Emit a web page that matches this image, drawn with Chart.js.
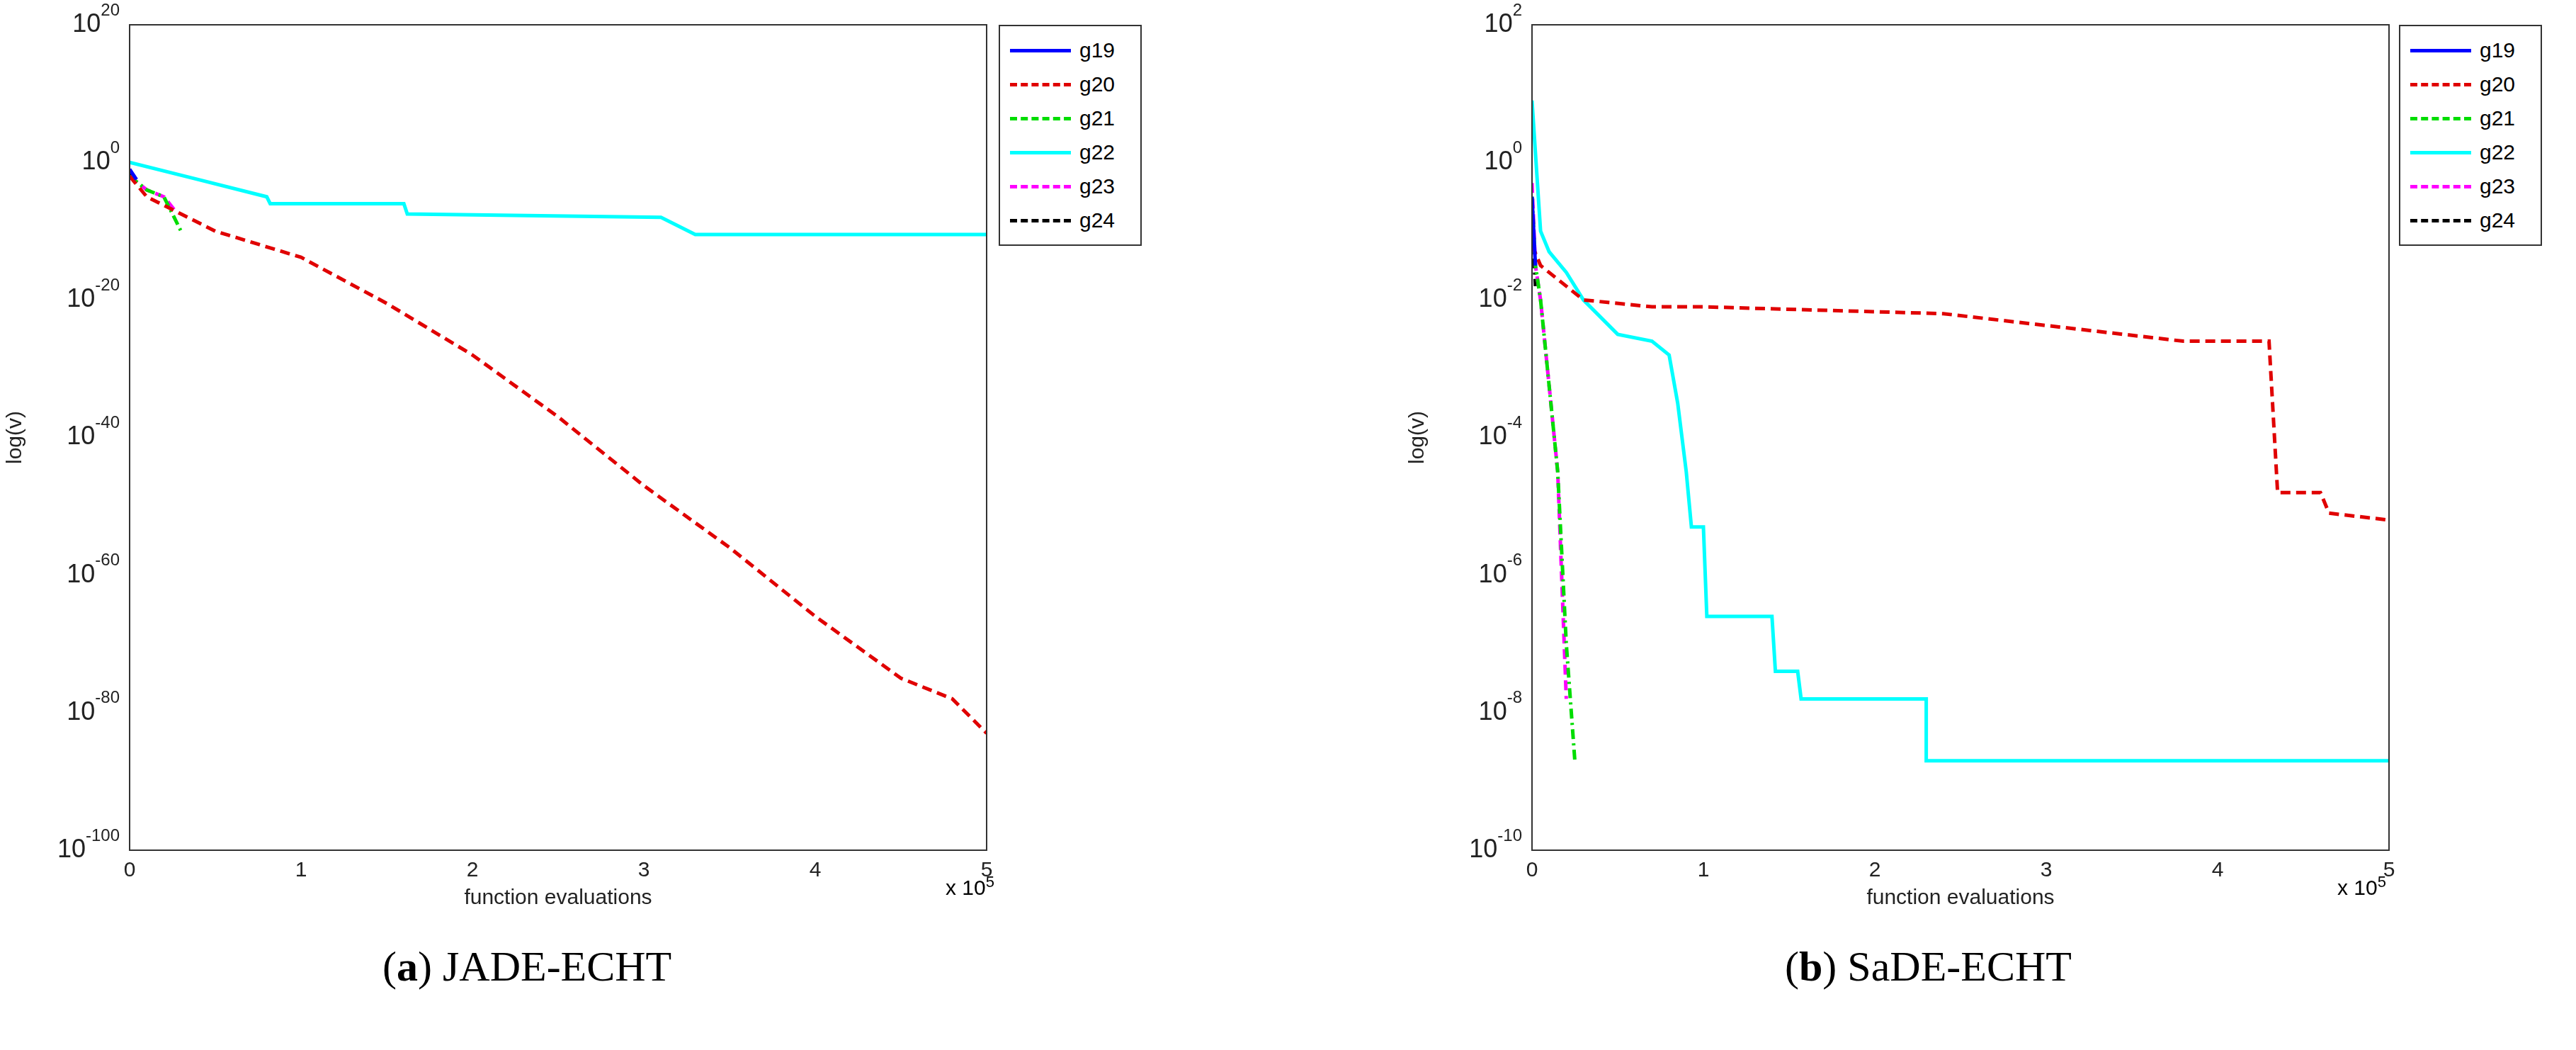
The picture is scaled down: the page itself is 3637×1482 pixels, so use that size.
<!DOCTYPE html>
<html><head><meta charset="utf-8">
<script src="https://cdn.jsdelivr.net/npm/chart.js@4/dist/chart.umd.min.js"></script>
<style>
body{margin:0;background:#fff;width:3637px;height:1482px;position:relative;font-family:"Liberation Sans",Arial,sans-serif;overflow:hidden}
.wrap{position:absolute;top:0;width:1420px;height:1290px}
.legend{position:absolute;border:2px solid #333;background:#fff;padding:10px 14px;font-size:30px}
.legend div{display:flex;align-items:center;height:48px}
.legend span.l{display:inline-block;width:86px;margin-right:12px;border-top:5px solid}
.cap{position:absolute;top:1330px;font-family:"Liberation Serif","Times New Roman",serif;font-size:60px}
.mult{position:absolute;top:1232px;font-size:30px}
</style></head><body>
<div class="wrap" id="w1" style="left:0"><canvas id="c1"></canvas></div>
<div class="wrap" id="w2" style="left:1980px"><canvas id="c2"></canvas></div>
<div class="legend" id="lg1" style="left:1410px;top:35px;width:170px"></div>
<div class="legend" id="lg2" style="left:3387px;top:35px;width:170px"></div>
<div class="mult" style="left:1335px">x 10<sup style="font-size:22px">5</sup></div>
<div class="mult" style="left:3300px">x 10<sup style="font-size:22px">5</sup></div>
<div class="cap" style="left:540px">(<b>a</b>) JADE-ECHT</div>
<div class="cap" style="left:2520px">(<b>b</b>) SaDE-ECHT</div>
<script>
// series names and styles
const names = ["g19","g20","g21","g22","g23","g24"]
const colors = ["#0000ff","#e00000","#00dd00","#00ffff","#ff00ff","#000000"]
const dashes = [[],[14,8],[14,6,3,6],[],[14,8],[14,6,3,6]]
const legendBorder = ["solid","dashed","dashed","solid","dashed","dashed"]

// x in units of 1e5 evaluations, y as log10 exponent
// (a) JADE-ECHT
const jX19 = [0,0.04], jY19 = [-1,-2.5]
const jX20 = [0,0.1,0.3,0.5,1,1.5,2,2.5,3,3.5,4,4.5,4.8,5]
const jY20 = [-2,-5,-7.5,-10,-13.8,-20.5,-28,-37,-47,-56,-66,-75,-78,-83]
const jX21 = [0,0.1,0.2,0.3], jY21 = [-2,-4,-5,-10]
const jX22 = [0,0.4,0.8,0.82,1.6,1.62,3.1,3.3,5]
const jY22 = [0,-2.5,-5,-6,-6,-7.5,-8,-10.5,-10.5]
const jX23 = [0,0.1,0.2,0.28], jY23 = [-2,-4,-5,-7.5]
const jX24 = [0,0.04], jY24 = [-1.5,-3]
// (b) SaDE-ECHT
const sX19 = [0,0.02], sY19 = [-0.5,-1.5]
const sX20 = [0,0.05,0.2,0.3,0.7,1.0,2.4,3.1,3.8,4.3,4.35,4.6,4.65,5]
const sY20 = [-1.2,-1.5,-1.8,-2.0,-2.1,-2.1,-2.2,-2.4,-2.6,-2.6,-4.8,-4.8,-5.1,-5.2]
const sX21 = [0,0.02,0.05,0.15,0.2,0.25], sY21 = [-0.5,-1.5,-2,-4.5,-7,-8.7]
const sX22 = [0,0.05,0.1,0.2,0.3,0.5,0.7,0.8,0.85,0.9,0.93,1.0,1.02,1.4,1.42,1.55,1.57,2.3,2.3,5]
const sY22 = [0.9,-1,-1.3,-1.6,-2.0,-2.5,-2.6,-2.8,-3.5,-4.5,-5.3,-5.3,-6.6,-6.6,-7.4,-7.4,-7.8,-7.8,-8.7,-8.7]
const sX23 = [0,0.02,0.05,0.15,0.2], sY23 = [-0.3,-1.5,-2,-4.5,-7.8]
const sX24 = [0,0.02], sY24 = [-0.8,-1.8]

const jade = [[jX19,jY19],[jX20,jY20],[jX21,jY21],[jX22,jY22],[jX23,jY23],[jX24,jY24]]
const sade = [[sX19,sY19],[sX20,sY20],[sX21,sY21],[sX22,sY22],[sX23,sY23],[sX24,sY24]]

// box round the plot and 10^n tick labels drawn with a real superscript
const boxPlugin = {
    id: "box",
    afterDraw(chart){
        const a = chart.chartArea, c = chart.ctx, y = chart.scales.y
        c.save(); c.strokeStyle = "#333"; c.lineWidth = 2
        c.strokeRect(a.left, a.top, a.right - a.left, a.bottom - a.top)
        c.fillStyle = "#222"; c.textBaseline = "middle"
        for(const t of y.ticks){
            const py = y.getPixelForValue(t.value)
            const e = String(Math.round(Math.log10(t.value)))
            c.font = "24px 'Liberation Sans', Arial"
            const ew = c.measureText(e).width
            c.textAlign = "left"
            c.fillText(e, a.left - 14 - ew, py - 20)
            c.font = "36px 'Liberation Sans', Arial"
            c.textAlign = "right"
            c.fillText("10", a.left - 14 - ew, py)
        }
        c.restore()
    }
}

function makeChart(id, series, yMin, yMax, yStep){
    const yTicks = []
    for(let e = yMin; e <= yMax; e += yStep) yTicks.push(e)
    new Chart(document.getElementById(id), {
        type: "line",
        data: {
            datasets: series.map((s, i) => ({
                label: names[i],
                data: s[0].map((x, k) => ({x: x, y: Math.pow(10, s[1][k])})),
                borderColor: colors[i],
                borderDash: dashes[i],
                borderWidth: 5,
                pointRadius: 0,
                fill: false
            }))
        },
        options: {
            responsive: true, maintainAspectRatio: false, animation: false,
            layout: { padding: {top: 35, right: 27} },
            plugins: { legend: {display: false}, tooltip: {enabled: false} },
            scales: {
                x: {
                    type: "linear", min: 0, max: 5,
                    ticks: { stepSize: 1, color: "#222", font: {size: 30} },
                    grid: { display: false },
                    border: { display: false },
                    title: { display: true, text: "function evaluations", color: "#222", font: {size: 30}, padding: {top: 0} }
                },
                y: {
                    type: "logarithmic", min: Math.pow(10, yMin), max: Math.pow(10, yMax),
                    afterBuildTicks: ax => { ax.ticks = yTicks.map(e => ({value: Math.pow(10, e)})) },
                    afterFit: ax => { ax.width = 183 },
                    ticks: { display: false },
                    grid: { display: false },
                    border: { display: false },
                    title: { display: true, text: "log(v)", color: "#222", font: {size: 30} }
                }
            }
        },
        plugins: [boxPlugin]
    })
}

makeChart("c1", jade, -100, 20, 20)
makeChart("c2", sade, -10, 2, 2)

for(const id of ["lg1","lg2"]){
    document.getElementById(id).innerHTML = names.map((n, i) =>
        '<div><span class="l" style="border-top:5px ' + legendBorder[i] + ' ' + colors[i] + '"></span>' + n + '</div>').join("")
}
</script>
</body></html>
